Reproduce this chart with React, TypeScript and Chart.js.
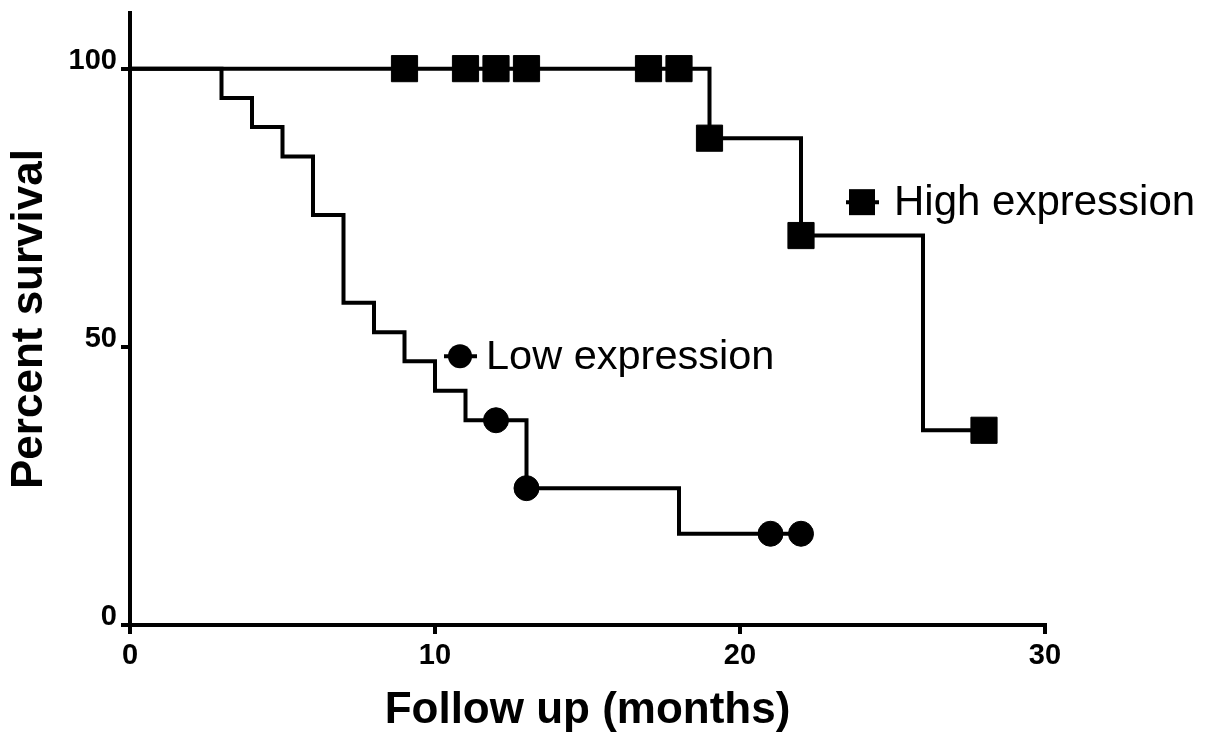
import React, { useEffect, useRef } from "react";
import { Chart, registerables } from "chart.js";

Chart.register(...registerables);

// Kaplan-Meier step data (time in months, percent survival after the event)
const lowTimes = [0, 3, 4, 5, 6, 7, 8, 9, 10, 11, 13, 18, 22];
const lowSurvival = [100, 94.7, 89.5, 84.2, 73.7, 57.9, 52.6, 47.4, 42.1, 36.8, 24.6, 16.4, 16.4];
const lowCensorTimes = [12, 13, 21, 22];
const lowCensorSurvival = [36.8, 24.6, 16.4, 16.4];

const highTimes = [0, 19, 22, 26, 28];
const highSurvival = [100, 87.5, 70, 35, 35];
const highCensorTimes = [9, 11, 12, 13, 17, 18, 19, 22, 28];
const highCensorSurvival = [100, 100, 100, 100, 100, 100, 87.5, 70, 35];

const xTicks = [0, 10, 20, 30];
const yTicks = [0, 50, 100];

const seriesNames = ["Low expression", "High expression"];
const labelAnchorX = [10.82, 24.0];
const labelAnchorY = [48.3, 76.0];
const labelStyles = ["circle", "rect"];

const FONT = "'Liberation Sans', Arial, Helvetica, sans-serif";

const toPoints = (xs: number[], ys: number[]) => xs.map((x, i) => ({ x, y: ys[i] }));

const inlineLabels = {
  id: "inlineLabels",
  afterDatasetsDraw(chart: any) {
    const { ctx, scales } = chart;
    ctx.save();
    seriesNames.forEach((name, i) => {
      const px = scales.x.getPixelForValue(labelAnchorX[i]);
      const py = scales.y.getPixelForValue(labelAnchorY[i]);
      const isCircle = labelStyles[i] === "circle";
      ctx.strokeStyle = "#000";
      ctx.fillStyle = "#000";
      ctx.lineWidth = 4;
      ctx.beginPath();
      ctx.moveTo(px - 16, py);
      ctx.lineTo(px + 17, py);
      ctx.stroke();
      ctx.beginPath();
      if (isCircle) {
        ctx.arc(px, py, 12, 0, Math.PI * 2);
      } else {
        ctx.rect(px - 13, py - 13, 26, 26);
      }
      ctx.fill();
      ctx.font = (isCircle ? "41.5px " : "42px ") + FONT;
      ctx.textAlign = "left";
      ctx.textBaseline = "middle";
      ctx.fillText(name, px + (isCircle ? 26 : 32), py + 1);
    });
    ctx.restore();
  },
};

export default function App() {
  const canvasRef = useRef<HTMLCanvasElement | null>(null);

  useEffect(() => {
    if (!canvasRef.current) return;
    const chart = new Chart(canvasRef.current, {
      type: "line",
      data: {
        datasets: [
          {
            label: seriesNames[0],
            data: toPoints(lowTimes, lowSurvival),
            stepped: "before",
            borderColor: "#000",
            borderWidth: 4,
            borderJoinStyle: "miter",
            borderCapStyle: "butt",
            pointRadius: 0,
            fill: false,
            order: 2,
          },
          {
            label: seriesNames[1],
            data: toPoints(highTimes, highSurvival),
            stepped: "before",
            borderColor: "#000",
            borderWidth: 4,
            borderJoinStyle: "miter",
            borderCapStyle: "butt",
            pointRadius: 0,
            fill: false,
            order: 2,
          },
          {
            label: seriesNames[0] + " censored",
            data: toPoints(lowCensorTimes, lowCensorSurvival),
            showLine: false,
            pointStyle: "circle",
            pointRadius: 12.5,
            pointBackgroundColor: "#000",
            pointBorderColor: "#000",
            pointBorderWidth: 1,
            clip: false as any,
            order: 1,
          },
          {
            label: seriesNames[1] + " censored",
            data: toPoints(highCensorTimes, highCensorSurvival),
            showLine: false,
            pointStyle: "rect",
            pointRadius: 18.5,
            pointBackgroundColor: "#000",
            pointBorderColor: "#000",
            pointBorderWidth: 1,
            clip: false as any,
            order: 1,
          },
        ],
      },
      options: {
        responsive: false,
        animation: false,
        devicePixelRatio: 1,
        layout: { autoPadding: false, padding: { top: 13, right: 160, left: 0, bottom: 0 } },
        plugins: {
          legend: { display: false },
          tooltip: { enabled: false },
        },
        scales: {
          x: {
            type: "linear",
            min: 0,
            max: 30,
            afterBuildTicks: (scale: any) => {
              scale.ticks = xTicks.map((v) => ({ value: v }));
            },
            afterFit: (scale: any) => {
              scale.height = 119;
            },
            grid: {
              display: true,
              drawOnChartArea: false,
              drawTicks: true,
              tickLength: 9,
              lineWidth: 4,
              color: "#000",
            },
            border: { display: true, width: 4, color: "#000" },
            ticks: {
              color: "#000",
              font: { family: FONT, size: 29, weight: "bold" },
              padding: 5,
              maxRotation: 0,
            },
            title: {
              display: true,
              text: "Follow up (months)",
              color: "#000",
              font: { family: FONT, size: 44, weight: "bold" },
              padding: { top: 0, bottom: 7 },
            },
          },
          y: {
            type: "linear",
            min: 0,
            max: 110,
            afterBuildTicks: (scale: any) => {
              scale.ticks = yTicks.map((v) => ({ value: v }));
            },
            afterFit: (scale: any) => {
              scale.width = 130;
            },
            grid: {
              display: true,
              drawOnChartArea: false,
              drawTicks: true,
              tickLength: 9,
              lineWidth: 4,
              color: "#000",
            },
            border: { display: true, width: 4, color: "#000" },
            ticks: {
              color: "#000",
              font: { family: FONT, size: 29, weight: "bold", lineHeight: 0.6 },
              padding: 4,
              labelOffset: -8,
            },
            title: {
              display: true,
              text: "Percent survival",
              color: "#000",
              font: { family: FONT, size: 44, weight: "bold" },
              padding: { top: 3, bottom: 0 },
            },
          },
        },
      } as any,
      plugins: [inlineLabels],
    });
    return () => chart.destroy();
  }, []);

  return (
    <div style={{ position: "absolute", left: 0, top: 0, width: 1205, height: 744, background: "#fff" }}>
      <canvas ref={canvasRef} width={1205} height={744} />
    </div>
  );
}
